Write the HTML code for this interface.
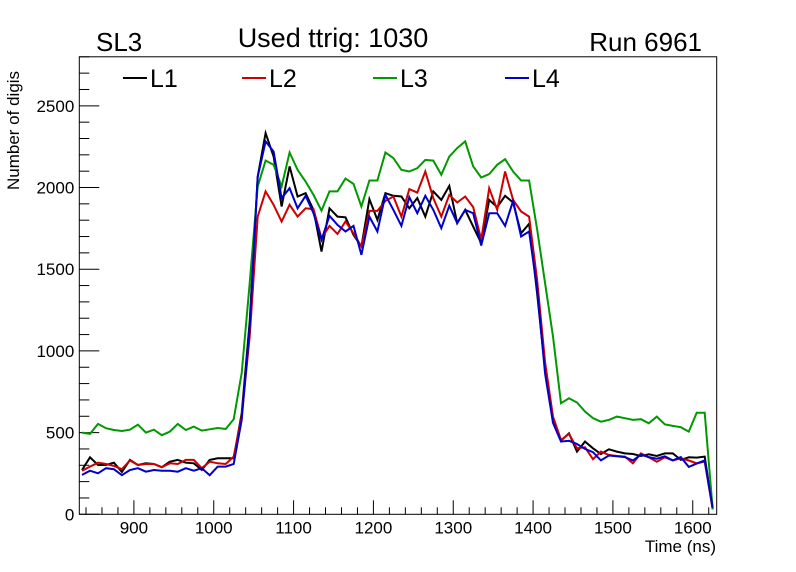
<!DOCTYPE html>
<html><head><meta charset="utf-8"><style>
html,body{margin:0;padding:0;background:#fff;}
svg{display:block;font-family:"Liberation Sans",Arial,sans-serif;}
</style></head><body>
<svg id="chart" width="796" height="572" viewBox="0 0 796 572" xmlns="http://www.w3.org/2000/svg">
<rect width="796" height="572" fill="#fff"/>
<text x="96" y="51" font-size="26">SL3</text>
<text x="333" y="47" font-size="27" text-anchor="middle">Used ttrig: 1030</text>
<text x="702" y="51" font-size="26" text-anchor="end">Run 6961</text>
<text transform="translate(19,190) rotate(-90)" font-size="17">Number of digis</text>
<text x="716" y="552" font-size="17" text-anchor="end">Time (ns)</text>
<g id="axes"></g>
<g id="series"></g>
<g id="legend"></g>
</svg>
<script>
const times = [];
for (let t = 835; t <= 1625; t += 10) times.push(t);
const seriesNames = ["L1","L2","L3","L4"];
const seriesColors = ["#000000","#cc0000","#009900","#0000cc"];
const l1 = [271,349,302,302,316,259,333,302,312,308,288,322,333,316,312,271,333,343,343,343,
618,1180,2067,2333,2190,1884,2129,1945,1965,1863,1608,1873,1822,1818,1710,1639,1929,1802,1965,1949,
1945,1873,1935,1822,1976,1924,2010,1782,1863,1761,1659,1924,1880,1949,1908,1720,1778,1353,884,578,
451,496,384,445,404,369,398,384,373,369,357,367,357,373,373,333,349,347,353,30];
const l2 = [267,292,316,308,296,276,329,302,308,308,288,312,308,333,333,282,322,312,308,353,
598,1090,1822,1976,1894,1792,1894,1822,1873,1867,1690,1765,1716,1792,1720,1639,1857,1857,1918,1945,
1822,1990,1969,2098,1935,1822,1955,1908,1945,1880,1680,1996,1863,2098,1924,1853,1822,1435,929,598,
455,492,404,410,337,384,363,357,353,312,373,349,322,349,329,343,329,312,322,30];
const l3 = [500,492,553,527,516,510,518,549,500,518,484,506,553,516,537,512,520,528,522,582,
865,1415,2006,2165,2139,2006,2214,2108,2037,1955,1859,1976,1976,2055,2022,1884,2043,2043,2214,2180,
2108,2098,2118,2169,2165,2078,2190,2241,2282,2129,2061,2082,2139,2173,2098,2043,2043,1745,1414,1088,
680,710,684,629,588,567,578,598,588,578,582,557,598,551,541,533,506,622,622,30];
const l4 = [241,267,251,282,276,239,271,282,261,271,267,267,261,282,267,282,239,292,292,308,
578,1150,2065,2282,2220,1935,1996,1873,1949,1843,1680,1827,1771,1731,1765,1588,1822,1731,1955,1863,
1765,1941,1843,1949,1863,1751,1888,1782,1863,1843,1645,1843,1843,1765,1918,1700,1731,1380,860,560,
445,450,430,400,380,330,360,355,350,330,365,350,340,355,330,350,290,310,330,40];
const seriesValues = [l1,l2,l3,l4];
const xTicks = [900,1000,1100,1200,1300,1400,1500,1600];
const yTicks = [0,500,1000,1500,2000,2500];

const X0=79.3, X1=716.7, Y0=514.3, Y1=56.8;
const xMin=831.6, xMax=1630, yMin=0, yMax=2800;
const xs = v => X0 + (v-xMin)/(xMax-xMin)*(X1-X0);
const ys = v => Y0 - (v-yMin)/(yMax-yMin)*(Y0-Y1);
const NS="http://www.w3.org/2000/svg";
function mk(tag, attrs, parent){const e=document.createElementNS(NS,tag);for(const k in attrs)e.setAttribute(k,attrs[k]);parent.appendChild(e);return e;}

const axes=document.getElementById('axes');
const frame=mk('rect',{x:X0,y:Y1,width:X1-X0,height:Y0-Y1,fill:'none',stroke:'#000','stroke-width':1},axes);


for(let v=840; v<=1620; v+=20){
  const major = v%100===0;
  const t=mk('line',{x1:xs(v),x2:xs(v),y1:Y0,y2:Y0-(major?14:7),stroke:'#000','stroke-width':1},axes);
  
  
}
xTicks.forEach(v=>{
  const t=mk('text',{x:xs(v),y:Y0+19,'font-size':17,'text-anchor':'middle'},axes);
  t.textContent=v;
  
  
});
for(let v=0; v<=2800; v+=100){
  const major = v%500===0;
  const t=mk('line',{x1:X0,x2:X0+(major?20:10),y1:ys(v),y2:ys(v),stroke:'#000','stroke-width':1},axes);
  
  
}
yTicks.forEach(v=>{
  const t=mk('text',{x:X0-5,y:ys(v)+6,'font-size':17,'text-anchor':'end'},axes);
  t.textContent=v;
  
  
});
const sg=document.getElementById('series');
seriesValues.forEach((vals,i)=>{
  const d=vals.map((v,j)=>(j?'L':'M')+xs(times[j]).toFixed(1)+','+ys(v).toFixed(1)).join(' ');
  const p=mk('path',{d:d,fill:'none',stroke:seriesColors[i],'stroke-width':2,'stroke-linejoin':'miter'},sg);
  
  
});
const lg=document.getElementById('legend');
const legX=[123,242,373,505];
seriesNames.forEach((n,i)=>{
  const g=mk('g',{},lg);
  
  
  mk('line',{x1:legX[i],x2:legX[i]+24,y1:78,y2:78,stroke:seriesColors[i],'stroke-width':2},g);
  const t=mk('text',{x:legX[i]+27,y:87,'font-size':25},g);
  t.textContent=n;
});
</script>
</body></html>
